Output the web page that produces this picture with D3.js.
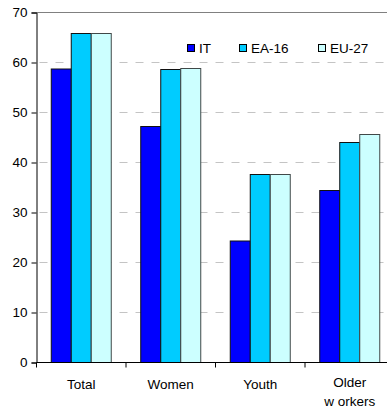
<!DOCTYPE html>
<html>
<head>
<meta charset="utf-8">
<script src="https://cdn.jsdelivr.net/npm/d3@7"></script>
<style>
  body { margin: 0; background: #fff; }
  svg { display: block; }
  text { font-family: "Liberation Sans", Arial, sans-serif; font-size: 13.5px; fill: #000; }
</style>
</head>
<body>
<svg id="chart" width="387" height="408"></svg>
<script>
// Employment rates by group, %
const categories = ["Total", "Women", "Youth", "Older workers"];
const seriesNames = ["IT", "EA-16", "EU-27"];
const IT   = [58.7, 47.2, 24.3, 34.4];
const EA16 = [65.8, 58.6, 37.6, 44.0];
const EU27 = [65.8, 58.8, 37.6, 45.6];
const yTicks = [0, 10, 20, 30, 40, 50, 60, 70];
const colors = ["#0000ff", "#00ccff", "#ccffff"];

const series = [IT, EA16, EU27];
const svg = d3.select("#chart");

const plotLeft = 36.5, plotRight = 394.5, plotTop = 12.5, plotBottom = 362.5;

const x = d3.scaleBand().domain(categories).range([plotLeft, plotRight]).paddingInner(0).paddingOuter(0);
const y = d3.scaleLinear().domain([0, 70]).range([plotBottom, plotTop]);
const barW = 20;
const groupW = barW * series.length;

// Dashed gridlines
svg.append("g")
  .selectAll("line")
  .data(yTicks.filter(t => t > 0 && t < 70))
  .join("line")
  .attr("x1", plotLeft + 3).attr("x2", plotRight)
  .attr("y1", d => y(d)).attr("y2", d => y(d))
  .attr("stroke", "#c4c4c4").attr("stroke-dasharray", "8,8");

// Top frame line
svg.append("line")
  .attr("x1", plotLeft).attr("x2", plotRight)
  .attr("y1", y(70)).attr("y2", y(70))
  .attr("stroke", "#808080");

// Bars
categories.forEach((c, i) => {
  const gx = x(c) + (x.bandwidth() - groupW) / 2;
  series.forEach((s, j) => {
    svg.append("rect")
      .attr("x", gx + j * barW)
      .attr("y", y(s[i]))
      .attr("width", barW)
      .attr("height", y(0) - y(s[i]))
      .attr("fill", colors[j])
      .attr("stroke", j === 2 ? "#404848" : "#111")
      .attr("stroke-width", 1);
  });
});

// Y axis
const yAxis = d3.axisLeft(y).tickValues(yTicks).tickSize(5).tickPadding(4).tickFormat(d3.format("d"));
const gy = svg.append("g").attr("transform", `translate(${plotLeft},0)`).call(yAxis);
gy.select(".domain").attr("stroke", "#000");
gy.selectAll(".tick line").attr("stroke", "#000");
gy.selectAll(".tick text").style("font-size", "13.5px").attr("fill", "#000");

// X axis baseline and category ticks
svg.append("line")
  .attr("x1", plotLeft).attr("x2", plotRight)
  .attr("y1", y(0)).attr("y2", y(0))
  .attr("stroke", "#000");
svg.append("g")
  .selectAll("line")
  .data(categories.concat(["end"]))
  .join("line")
  .attr("x1", (d, i) => plotLeft + i * x.bandwidth())
  .attr("x2", (d, i) => plotLeft + i * x.bandwidth())
  .attr("y1", y(0)).attr("y2", y(0) + 5)
  .attr("stroke", "#000");

// Category labels
const labelLines = { "Older workers": ["Older", "w orkers"] };
categories.forEach(c => {
  const lines = labelLines[c] || [c];
  const t = svg.append("text")
    .attr("text-anchor", "middle")
    .attr("x", x(c) + x.bandwidth() / 2);
  lines.forEach((ln, k) => {
    t.append("tspan")
      .attr("x", x(c) + x.bandwidth() / 2)
      .attr("y", (lines.length > 1 ? 387 : 389) + k * 19)
      .text(ln);
  });
});

// Legend
const legendX = [187, 239, 318];
seriesNames.forEach((n, j) => {
  svg.append("rect")
    .attr("x", legendX[j] + 0.5).attr("y", 44.5)
    .attr("width", 7).attr("height", 7)
    .attr("fill", colors[j]).attr("stroke", "#000");
  svg.append("text")
    .attr("x", legendX[j] + 12).attr("y", 53)
    .text(n);
});
</script>
</body>
</html>
